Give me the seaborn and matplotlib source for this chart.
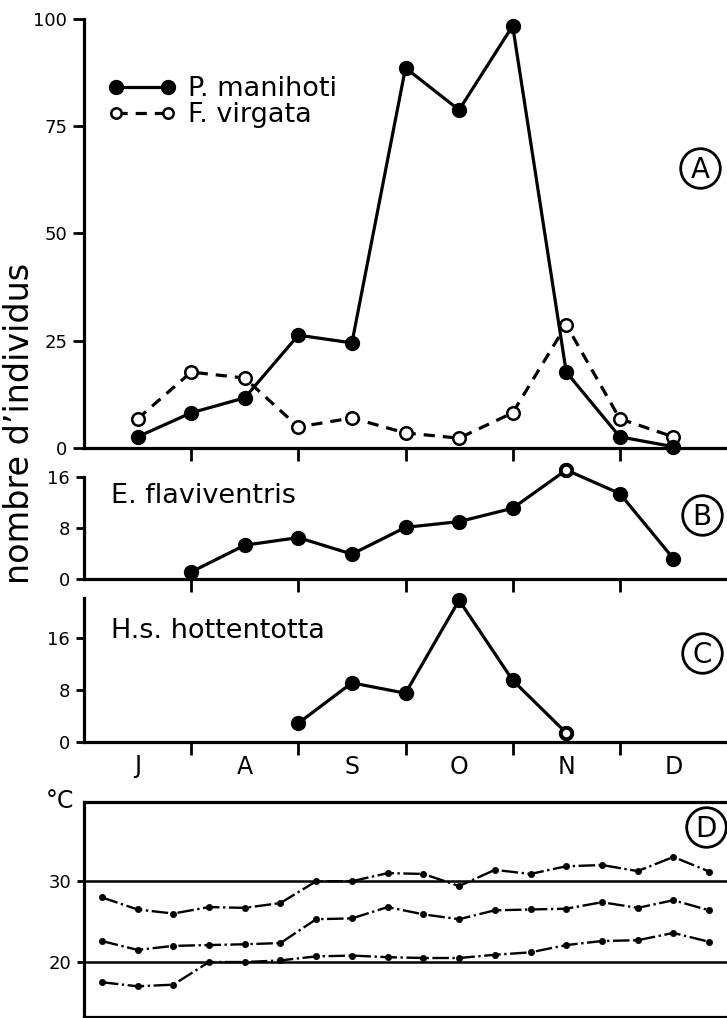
import numpy as np
import pandas as pd
import matplotlib
matplotlib.use("Agg")
import matplotlib.pyplot as plt
from matplotlib.lines import Line2D
import seaborn as sns

# ---------------- data ----------------
months = ["J", "A", "S", "O", "N", "D"]
month_mid = [0.5, 1.5, 2.5, 3.5, 4.5, 5.5]
month_bounds = [1, 2, 3, 4, 5]

# half-monthly samples (time in months from 1 July)
t_half = [0.5, 1.0, 1.5, 2.0, 2.5, 3.0, 3.5, 4.0, 4.5, 5.0, 5.5]
manihoti = [2.6, 8.2, 11.7, 26.3, 24.5, 88.6, 78.8, 98.4, 17.7, 2.6, 0.3]
virgata = [6.8, 17.7, 16.3, 4.9, 7.0, 3.5, 2.3, 8.2, 28.7, 6.8, 2.6]

t_flav = [1.0, 1.5, 2.0, 2.5, 3.0, 3.5, 4.0, 4.5, 5.0, 5.5]
flaviventris = [1.1, 5.3, 6.5, 3.9, 8.1, 9.0, 11.1, 17.1, 13.4, 3.2]
flav_open = [False, False, False, False, False, False, False, True, False, False]

t_hott = [2.0, 2.5, 3.0, 3.5, 4.0, 4.5]
hottentotta = [2.9, 9.1, 7.5, 21.8, 9.5, 1.4]
hott_open = [False, False, False, False, False, True]

# decade (10-day) temperatures
t_dec = [(i + 0.5) / 3 for i in range(18)]
tmax = [28.0, 26.5, 26.0, 26.8, 26.7, 27.3, 30.0, 30.0, 31.0, 30.9, 29.4, 31.4,
        30.9, 31.85, 32.0, 31.25, 33.0, 31.2]
tmean = [22.6, 21.5, 22.0, 22.1, 22.2, 22.35, 25.3, 25.4, 26.8, 25.9, 25.3, 26.4,
         26.5, 26.6, 27.4, 26.7, 27.65, 26.4]
tmin = [17.5, 17.0, 17.2, 20.0, 20.0, 20.2, 20.7, 20.8, 20.6, 20.5, 20.5, 20.9,
        21.2, 22.1, 22.6, 22.7, 23.6, 22.5]

# ---------------- style ----------------
sns.set_style("ticks")
plt.rcParams.update({
    "font.family": ["DejaVu Sans"],
    "axes.linewidth": 2.3,
    "axes.edgecolor": "black",
    "text.color": "black",
    "axes.labelcolor": "black",
    "xtick.color": "black",
    "ytick.color": "black",
    "xtick.major.width": 2.0,
    "ytick.major.width": 2.0,
})

W, H = 727, 1018
fig = plt.figure(figsize=(W / 100, H / 100), dpi=100)


def ax_px(left, top, right, bottom):
    return fig.add_axes([left / W, 1 - bottom / H, (right - left) / W, (bottom - top) / H])


def fx(px):
    return px / W


def fy(py):
    return 1 - py / H


axA = ax_px(84, 19, 727, 448)
axB = ax_px(84, 477, 727, 579)
axC = ax_px(84, 598, 727, 742)
axD = ax_px(84, 802, 727, 1017)

LW = 2.3
FILL = dict(color="black", lw=LW, marker="o", markersize=10,
            markerfacecolor="black", markeredgecolor="black",
            markeredgewidth=1.0, clip_on=False)

# ---- panel A ----
dfA = pd.DataFrame({"t": t_half, "manihoti": manihoti, "virgata": virgata})
sns.lineplot(data=dfA, x="t", y="virgata", ax=axA, color="black", lw=LW,
             linestyle=(0, (3.5, 2.5)), marker="o", markersize=9,
             markerfacecolor="white", markeredgecolor="black",
             markeredgewidth=1.8, clip_on=False, label="F. virgata")
sns.lineplot(data=dfA, x="t", y="manihoti", ax=axA, label="P. manihoti", **FILL)
axA.set_ylim(0, 100)
axA.set_yticks([0, 25, 50, 75, 100])

handles, labels = axA.get_legend_handles_labels()
order = [labels.index("P. manihoti"), labels.index("F. virgata")]
leg = axA.legend([handles[i] for i in order], [labels[i] for i in order],
                 numpoints=2, frameon=False, fontsize=19.5,
                 handlelength=2.5, handletextpad=0.47, labelspacing=0.0,
                 borderpad=0, borderaxespad=0, loc="upper left",
                 bbox_to_anchor=(fx(108), fy(76)), bbox_transform=fig.transFigure)
for h, ms in zip(leg.legend_handles, [10, 7.5]):
    h.set_markersize(ms)

# ---- panel B ----
dfB = pd.DataFrame({"t": t_flav, "v": flaviventris, "open": flav_open})
sns.lineplot(data=dfB, x="t", y="v", ax=axB, **FILL)
sub = dfB[dfB["open"]]
axB.plot(sub["t"], sub["v"], ls="none", marker="o", markersize=8,
         markerfacecolor="white", markeredgecolor="black", markeredgewidth=2.6,
         clip_on=False, zorder=5)
axB.set_ylim(0, 16)
axB.set_yticks([0, 8, 16])

# ---- panel C ----
dfC = pd.DataFrame({"t": t_hott, "v": hottentotta, "open": hott_open})
sns.lineplot(data=dfC, x="t", y="v", ax=axC, **FILL)
sub = dfC[dfC["open"]]
axC.plot(sub["t"], sub["v"], ls="none", marker="o", markersize=8,
         markerfacecolor="white", markeredgecolor="black", markeredgewidth=2.6,
         clip_on=False, zorder=5)
axC.set_ylim(0, 22.15)
axC.set_yticks([0, 8, 16])

for ax in (axA, axB, axC):
    sns.despine(ax=ax)
    ax.set_xlim(0, 6)
    ax.set_xticks(month_bounds)
    ax.set_xticklabels([])
    ax.set_xticks(month_mid, minor=True)
    ax.tick_params(axis="x", which="major", length=9, width=2.0, direction="out")
    ax.tick_params(axis="x", which="minor", length=0)
    ax.tick_params(axis="y", length=6, width=2.0, pad=4, labelsize=13)
    ax.set_xlabel("")
    ax.set_ylabel("")
    if ax.get_legend() is not None and ax is not axA:
        ax.get_legend().remove()
axA.tick_params(axis="y", length=8)
axC.set_xticklabels(months, minor=True, fontsize=17)
axC.tick_params(axis="x", which="minor", pad=9)

# ---- panel D ----
dfD = pd.DataFrame({"t": t_dec, "tmax": tmax, "tmean": tmean, "tmin": tmin})
for col in ("tmax", "tmean", "tmin"):
    sns.lineplot(data=dfD, x="t", y=col, ax=axD, color="black", lw=1.7,
                 linestyle=(0, (7, 1.5, 1, 1.5)), marker="o", markersize=4.5,
                 markerfacecolor="black", markeredgecolor="black",
                 markeredgewidth=0.5, clip_on=False)
axD.axhline(30, color="black", lw=1.8, zorder=1)
axD.axhline(20, color="black", lw=1.8, zorder=1)
axD.set_xlim(0, 6)
axD.set_ylim(13.2, 39.8)
axD.set_xticks([])
axD.set_yticks([20, 30])
axD.tick_params(axis="y", length=5, width=2.0, pad=4, labelsize=13)
axD.spines["right"].set_visible(False)
axD.set_xlabel("")
axD.set_ylabel("")

# ---------------- texts ----------------
fig.text(fx(20), fy(423), "nombre d\u2019individus", rotation=90,
         ha="center", va="center", fontsize=24)
fig.text(fx(111), fy(503), "E. flaviventris", ha="left", va="baseline", fontsize=19.5)
fig.text(fx(111), fy(638), "H.s. hottentotta", ha="left", va="baseline", fontsize=19.5)
fig.text(fx(46), fy(808), "\u00b0C", ha="left", va="baseline", fontsize=17)

for letter, cx, cy in (("A", 700, 168), ("B", 702, 515), ("C", 702, 653), ("D", 706, 827)):
    fig.add_artist(Line2D([fx(cx)], [fy(cy)], transform=fig.transFigure,
                          marker="o", markersize=28.5, markerfacecolor="white",
                          markeredgecolor="black", markeredgewidth=2.0, ls="none"))
    fig.text(fx(cx), fy(cy + 10), letter, ha="center", va="baseline", fontsize=20)

fig.savefig("out.png", dpi=100)
